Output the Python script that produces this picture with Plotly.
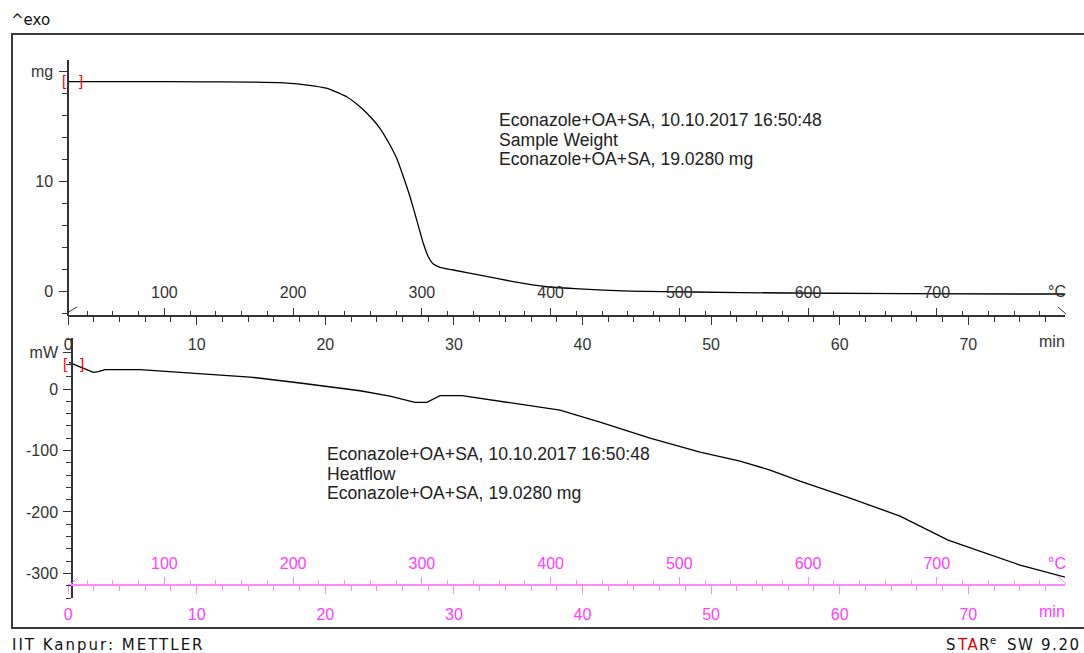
import plotly.graph_objects as go

# ---------------- data ----------------
time_tga_min = [0, 5, 10.3, 14.1, 16.5, 19.07, 20.37, 21.66, 22.70, 23.73, 24.25, 25.03, 25.55,
                26.07, 26.59, 27.11, 27.62, 28.01, 28.40, 28.92, 29.95, 32.03, 34.62, 37.22,
                39.4, 41.6, 43.7, 48.6, 55.9, 74.0, 77.5]
weight_mg = [19.03, 19.03, 19.02, 18.99, 18.94, 18.64, 18.34, 17.66, 16.75, 15.55, 14.79, 13.27,
             12.06, 10.39, 8.57, 6.45, 4.34, 3.12, 2.45, 2.15, 1.91, 1.45, 0.85, 0.39, 0.22,
             0.09, 0.0, -0.09, -0.18, -0.27, -0.27]

time_dsc_min = [0.07, 1.18, 1.96, 2.35, 2.87, 5.59, 7.15, 10.26, 14.14, 18.03, 22.7, 25.03, 26.97,
                27.9, 28.92, 30.63, 33.04, 38.25, 41.36, 45.25, 49.14, 52.25, 54.58, 56.91, 60.8,
                64.69, 68.43, 74.03, 77.53]
heatflow_mw = [43.5, 33.7, 27.2, 28.2, 31.4, 31.4, 29.3, 25.6, 19.5, 9.8, -2.8, -11.4, -21.6,
               -21.6, -10.9, -10.9, -17.9, -34.2, -53.7, -79.8, -102.5, -117.2, -131.8, -149.7,
               -177.4, -206.7, -245.8, -286.5, -306]

time_ticks = [0, 10, 20, 30, 40, 50, 60, 70]
time_minor = list(range(0, 78, 2))
temp_ticks = [100, 200, 300, 400, 500, 600, 700]
temp_minor = list(range(40, 800, 20))
mg_tickvals = [0, 10, 20]
mg_ticktext = ["0", "10", "mg"]
mg_minor = list(range(-2, 21, 2))
mw_tickvals = [60, 0, -100, -200, -300]
mw_ticktext = ["mW", "0", "-100", "-200", "-300"]
mw_minor = list(range(-340, 81, 20))

time_range = [0, 77.52]
temp_range = [25.2, 799.6]
mg_range = [-2.27, 21.0]
mw_range = [-340, 83]

title_upper = ["Econazole+OA+SA, 10.10.2017 16:50:48", "Sample Weight", "Econazole+OA+SA, 19.0280 mg"]
title_lower = ["Econazole+OA+SA, 10.10.2017 16:50:48", "Heatflow", "Econazole+OA+SA, 19.0280 mg"]

# ---------------- layout helpers ----------------
W, H = 1084, 653
def px(x):
    return x / W
def py(y):
    return 1 - y / H

DARK = "#333333"
MAG_LINE = "#ff88ff"
MAG_TEXT = "#ff40ff"
FONT = "Liberation Sans, Arial, sans-serif"

fig = go.Figure()
fig.add_trace(go.Scatter(x=time_tga_min, y=weight_mg, mode="lines", xaxis="x", yaxis="y",
                         line=dict(color="#000000", width=1.3, shape="spline", smoothing=0.4),
                         showlegend=False, hoverinfo="skip"))
fig.add_trace(go.Scatter(x=[None], y=[None], xaxis="x2", yaxis="y", showlegend=False,
                         hoverinfo="skip"))
fig.add_trace(go.Scatter(x=time_dsc_min, y=heatflow_mw, mode="lines", xaxis="x3", yaxis="y2",
                         line=dict(color="#000000", width=1.3),
                         showlegend=False, hoverinfo="skip"))
fig.add_trace(go.Scatter(x=[None], y=[None], xaxis="x4", yaxis="y2", showlegend=False,
                         hoverinfo="skip"))

xdom = [px(68.1), px(1065)]

def xaxis_common(color, tcolor):
    return dict(domain=xdom, showgrid=False, zeroline=False, showline=True, linecolor=color,
                linewidth=1.5, tickcolor=color, tickwidth=1, ticks="outside", automargin=False,
                tickfont=dict(family=FONT, size=16, color=tcolor), fixedrange=True)

fig.update_layout(
    width=W, height=H, margin=dict(l=0, r=0, t=0, b=0, pad=0, autoexpand=False),
    paper_bgcolor="white", plot_bgcolor="rgba(0,0,0,0)",
    xaxis=dict(**xaxis_common(DARK, DARK), range=time_range, anchor="free", position=py(316),
               side="bottom", tickvals=time_ticks, ticklen=8,
               minor=dict(tickvals=time_minor, ticklen=5, ticks="outside", tickcolor=DARK),
               ticklabelstandoff=6),
    xaxis2=dict(**xaxis_common(DARK, DARK), range=temp_range, anchor="free", position=py(316),
                side="top", overlaying="x", tickvals=temp_ticks, ticklen=7,
                minor=dict(tickvals=temp_minor, ticklen=4, ticks="outside", tickcolor=DARK),
                ticklabelstandoff=4),
    yaxis=dict(domain=[py(316), py(60)], range=mg_range, anchor="free", position=px(68.1),
               showgrid=False, zeroline=False, showline=True, linecolor=DARK, linewidth=1.5,
               ticks="outside", tickcolor=DARK, ticklen=8, tickvals=mg_tickvals,
               ticktext=mg_ticktext, automargin=False, ticklabelstandoff=3,
               minor=dict(tickvals=mg_minor, ticklen=5, ticks="outside", tickcolor=DARK),
               tickfont=dict(family=FONT, size=16, color=DARK), fixedrange=True),
    xaxis3=dict(**xaxis_common(MAG_LINE, MAG_TEXT), range=time_range, anchor="free",
                position=py(585), side="bottom", tickvals=time_ticks, ticklen=8,
                minor=dict(tickvals=time_minor, ticklen=5, ticks="outside", tickcolor=MAG_LINE),
                ticklabelstandoff=7),
    xaxis4=dict(**xaxis_common(MAG_LINE, MAG_TEXT), range=temp_range, anchor="free",
                position=py(585), side="top", overlaying="x3", tickvals=temp_ticks, ticklen=7,
                minor=dict(tickvals=temp_minor, ticklen=4, ticks="outside", tickcolor=MAG_LINE),
                ticklabelstandoff=2),
    yaxis2=dict(domain=[py(598), py(338)], range=mw_range, anchor="free", position=px(72),
                showgrid=False, zeroline=False, showline=True, linecolor=DARK, linewidth=1.5,
                ticks="outside", tickcolor=DARK, ticklen=8, tickvals=mw_tickvals,
                ticktext=mw_ticktext, automargin=False, ticklabelstandoff=2,
                minor=dict(tickvals=mw_minor, ticklen=5, ticks="outside", tickcolor=DARK),
                tickfont=dict(family=FONT, size=16, color=DARK), fixedrange=True),
)

# outer frame and axis end marks
shapes = [
    dict(type="rect", xref="paper", yref="paper", x0=px(12), x1=px(1095), y0=py(628), y1=py(34),
         line=dict(color="#3a3a3a", width=2)),
    dict(type="line", xref="paper", yref="paper", x0=px(67), y0=py(313), x1=px(77), y1=py(307),
         line=dict(color=DARK, width=1)),
    dict(type="line", xref="paper", yref="paper", x0=px(1058), y0=py(307), x1=px(1066), y1=py(314),
         line=dict(color=DARK, width=1)),
    dict(type="line", xref="paper", yref="paper", x0=px(71), y0=py(584), x1=px(78), y1=py(577),
         line=dict(color=MAG_LINE, width=1)),
    dict(type="line", xref="paper", yref="paper", x0=px(1058), y0=py(576), x1=px(1066), y1=py(584),
         line=dict(color=MAG_LINE, width=1)),
]
fig.update_layout(shapes=shapes)

ann = []
def text(x, y, s, size=17, color="#222222", xanchor="left", family=FONT, **kw):
    ann.append(dict(x=px(x), y=py(y), xref="paper", yref="paper", text=s, showarrow=False,
                    xanchor=xanchor, yanchor="middle", font=dict(family=family, size=size, color=color),
                    **kw))

for i, s in enumerate(title_upper):
    text(497, 120 + 19.5 * i, s, size=17.6)
for i, s in enumerate(title_lower):
    text(325, 454 + 19.5 * i, s, size=17.6)

text(1057, 291, "°C", size=16, color=DARK, xanchor="center")
text(1052, 341, "min", size=16, color=DARK, xanchor="center")
text(1057, 563, "°C", size=16, color=MAG_TEXT, xanchor="center")
text(1052, 611, "min", size=16, color=MAG_TEXT, xanchor="center")

text(9, 20, "^exo", size=15, color="#111111", family="DejaVu Sans")
text(10, 645, '<span style="letter-spacing:2px">IIT Kanpur: METTLER</span>', size=15,
     color="#111111", family="DejaVu Sans")
# footer logo, drawn in pieces
text(944, 645, '<span style="letter-spacing:1.6px">S</span>', size=15, color="#111111",
     family="DejaVu Sans")
text(955, 645, '<span style="letter-spacing:1.6px">TA</span>', size=15, color="#e00000",
     family="DejaVu Sans")
text(977, 645, "R", size=15, color="#111111", family="DejaVu Sans")
text(988, 640, "e", size=10, color="#111111", family="DejaVu Sans")
text(1083, 645, '<span style="letter-spacing:1.6px">SW 9.20</span>', size=15, color="#111111",
     family="DejaVu Sans", xanchor="right")

# red start brackets tied to first data points
for xr, yr, x0, y0, ysh in [("x", "y", time_tga_min[0], weight_mg[0], 1.5),
                            ("x3", "y2", time_dsc_min[0], heatflow_mw[0], -1)]:
    ann.append(dict(x=x0, y=y0, xref=xr, yref=yr, text="[", showarrow=False, xanchor="center",
                    yanchor="middle", xshift=-3.5, yshift=ysh,
                    font=dict(family=FONT, size=15, color="#ff0000")))
    ann.append(dict(x=x0, y=y0, xref=xr, yref=yr, text="]", showarrow=False, xanchor="center",
                    yanchor="middle", xshift=13, yshift=ysh,
                    font=dict(family=FONT, size=15, color="#ff0000")))

fig.update_layout(annotations=ann)
fig.write_html("out.html")
